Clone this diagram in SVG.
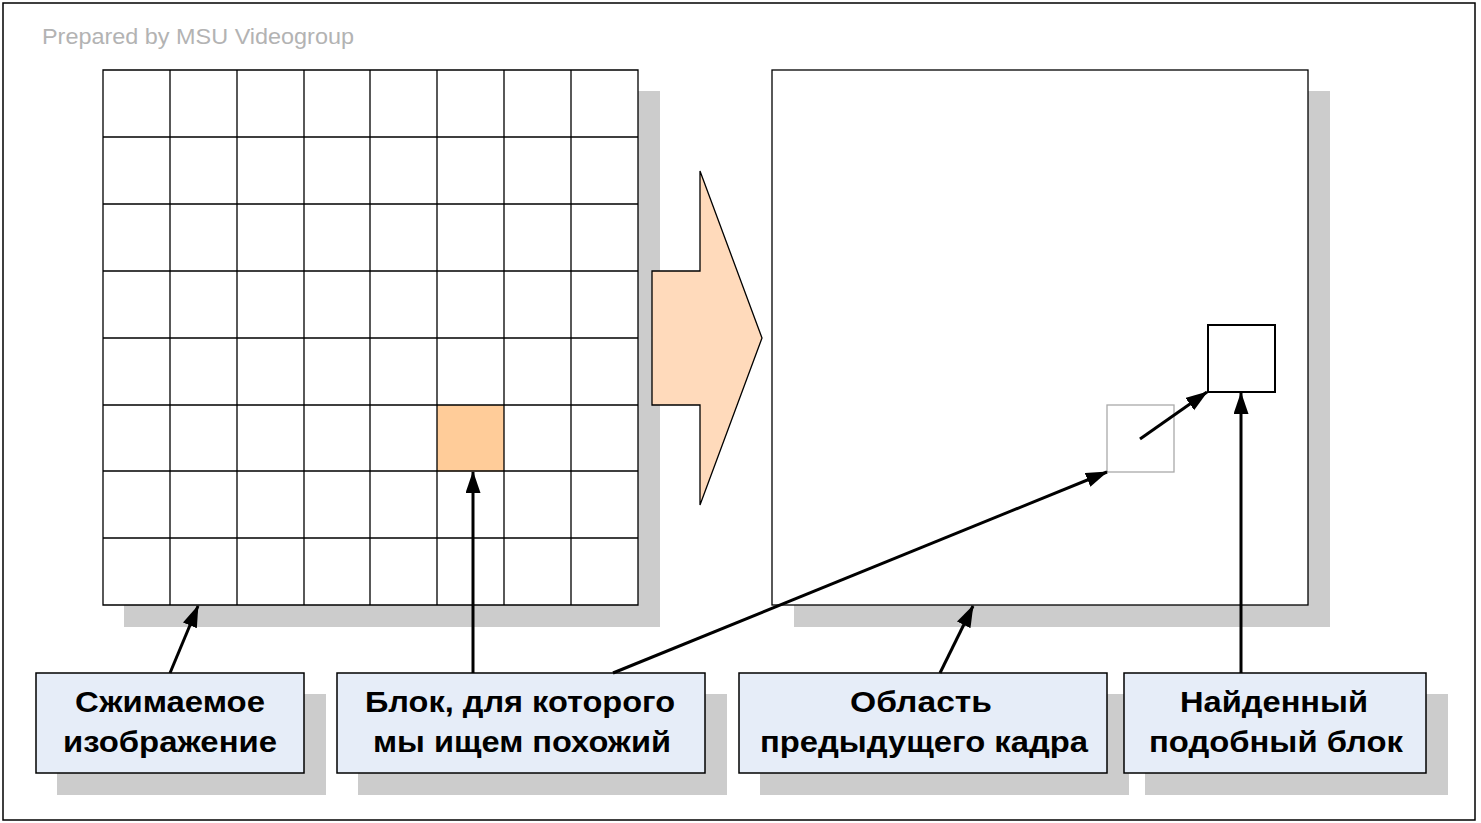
<svg xmlns="http://www.w3.org/2000/svg" width="1481" height="823" viewBox="0 0 1481 823">
<style>
.shadow{fill:#cccccc}
.grid{stroke:#000;stroke-width:1.3;fill:none}
.label{fill:#e6edf8;stroke:#000;stroke-width:1.5}
.lt{font-family:"Liberation Sans",Arial,sans-serif;font-weight:bold;font-size:29px;fill:#000;text-anchor:middle}
.conn{stroke:#000;stroke-width:3;fill:none}
</style>
<defs>
<marker id="ah" markerUnits="userSpaceOnUse" markerWidth="22" markerHeight="16" refX="21" refY="7.5" orient="auto">
<path d="M0,0 L22,7.5 L0,15 z" fill="#000"/>
</marker>
</defs>
<rect x="0" y="0" width="1481" height="823" fill="#fff"/>
<rect x="3" y="3" width="1472" height="817" fill="#fff" stroke="#000" stroke-width="1.5"/>
<text x="42" y="44" font-family="Liberation Sans,Arial,sans-serif" font-size="22" fill="#b3b3b3" textLength="312" lengthAdjust="spacingAndGlyphs">Prepared by MSU Videogroup</text>

<g id="current-frame">
<rect class="shadow" x="124" y="91" width="536" height="536"/>
<rect x="103" y="70" width="535" height="535" fill="#fff"/>
<rect x="437" y="405" width="67" height="66.5" fill="#ffcc99"/>
<path class="grid" d="M103,70H638V605H103Z M170,70V605 M237,70V605 M304,70V605 M370,70V605 M437,70V605 M504,70V605 M571,70V605 M103,137H638 M103,204H638 M103,271H638 M103,338H638 M103,405H638 M103,471H638 M103,538H638"/>
</g>

<g id="big-arrow">
<path d="M700,171 L762,338 L700,505 L700,405 L652,405 L652,271 L700,271 Z" fill="#ffdabb" stroke="#000" stroke-width="1.3"/>
</g>

<g id="previous-frame">
<rect class="shadow" x="794" y="91" width="536" height="536"/>
<rect x="772" y="70" width="536" height="535" fill="#fff" stroke="#000" stroke-width="1.3"/>
<rect id="source-pos" x="1107" y="405" width="67" height="67" fill="#fff" stroke="#aaaaaa" stroke-width="1.3"/>
<rect id="found-block" x="1208" y="325" width="67" height="67" fill="#fff" stroke="#000" stroke-width="2"/>
</g>

<g id="label-1">
<rect class="shadow" x="57" y="694" width="269" height="101"/>
<rect class="label" x="36" y="673" width="268" height="100"/>
<text class="lt" x="170" y="712" textLength="190" lengthAdjust="spacingAndGlyphs">Сжимаемое</text>
<text class="lt" x="170" y="752" textLength="214" lengthAdjust="spacingAndGlyphs">изображение</text>
</g>
<g id="label-2">
<rect class="shadow" x="358" y="694" width="369" height="101"/>
<rect class="label" x="337" y="673" width="368" height="100"/>
<text class="lt" x="520" y="712" textLength="310" lengthAdjust="spacingAndGlyphs">Блок, для которого</text>
<text class="lt" x="522" y="752" textLength="298" lengthAdjust="spacingAndGlyphs">мы ищем похожий</text>
</g>
<g id="label-3">
<rect class="shadow" x="760" y="694" width="369" height="101"/>
<rect class="label" x="739" y="673" width="368" height="100"/>
<text class="lt" x="921" y="712" textLength="142" lengthAdjust="spacingAndGlyphs">Область</text>
<text class="lt" x="924" y="752" textLength="328" lengthAdjust="spacingAndGlyphs">предыдущего кадра</text>
</g>
<g id="label-4">
<rect class="shadow" x="1145" y="694" width="303" height="101"/>
<rect class="label" x="1124" y="673" width="302" height="100"/>
<text class="lt" x="1274" y="712" textLength="188" lengthAdjust="spacingAndGlyphs">Найденный</text>
<text class="lt" x="1276" y="752" textLength="254" lengthAdjust="spacingAndGlyphs">подобный блок</text>
</g>

<g id="connectors">
<line class="conn" x1="170" y1="673" x2="198" y2="606" marker-end="url(#ah)"/>
<line class="conn" x1="473" y1="673" x2="473" y2="472" marker-end="url(#ah)"/>
<line class="conn" x1="613" y1="673" x2="1107" y2="472" marker-end="url(#ah)"/>
<line class="conn" x1="940" y1="673" x2="973" y2="606" marker-end="url(#ah)"/>
<line class="conn" x1="1241" y1="673" x2="1241" y2="393" marker-end="url(#ah)"/>
<line class="conn" x1="1140" y1="439" x2="1207" y2="392" marker-end="url(#ah)"/>
</g>
</svg>
